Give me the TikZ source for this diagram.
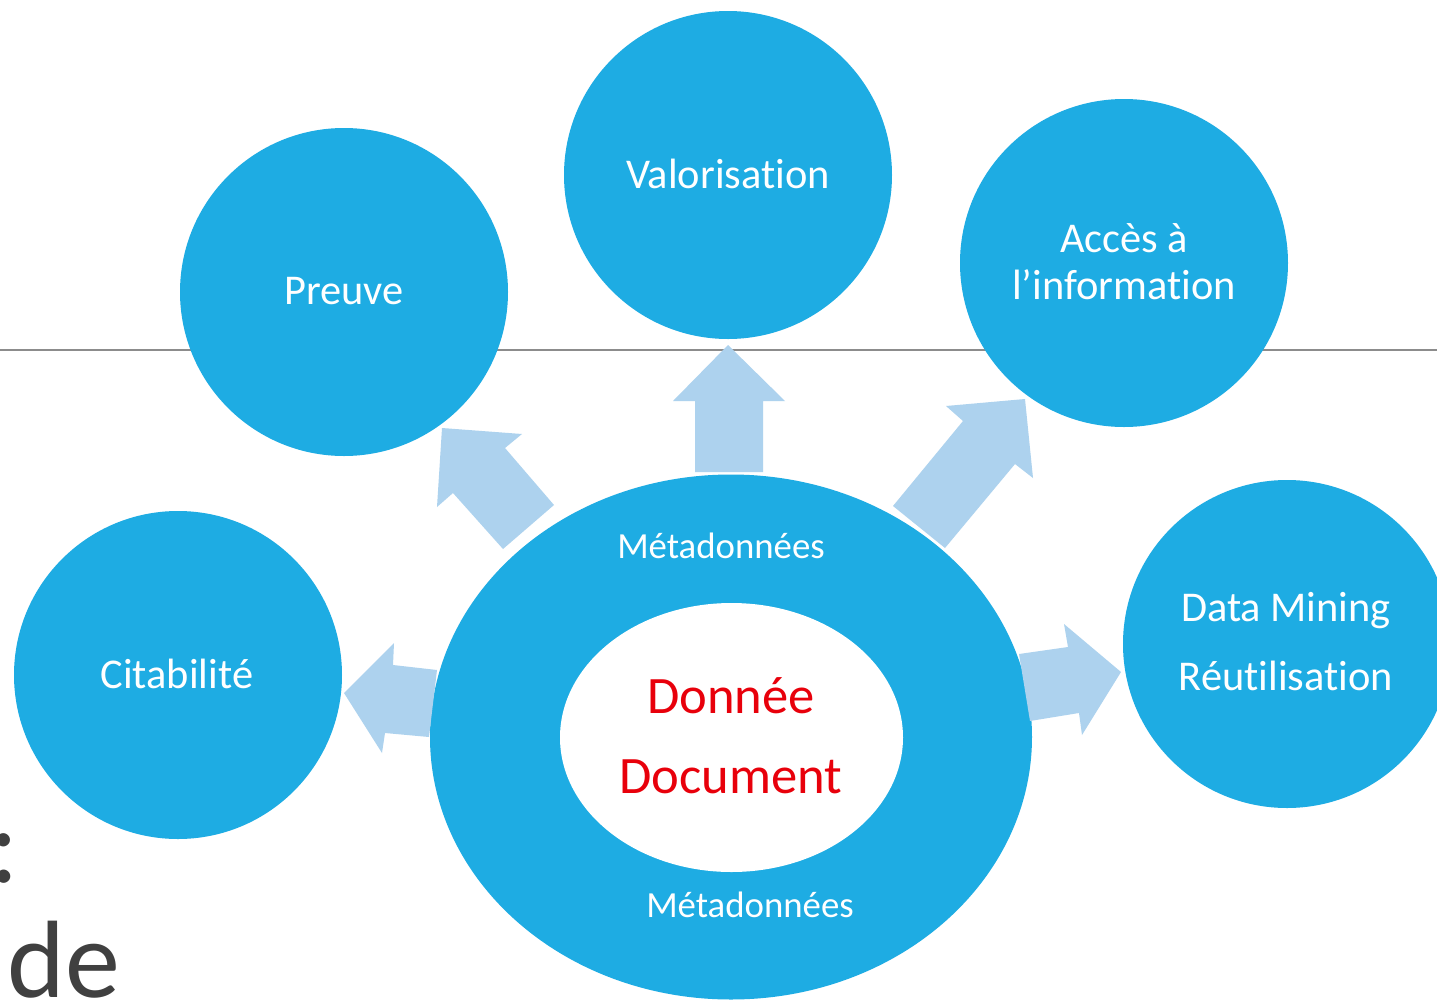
\documentclass[tikz,border=0pt]{standalone}
\usepackage{fontspec}
\setmainfont{Carlito}[Ligatures=NoCommon]
\usetikzlibrary{shapes.geometric}
\definecolor{cblue}{HTML}{1EACE3}
\definecolor{alight}{HTML}{ADD2EE}
\definecolor{lgray}{HTML}{8C8C8C}
\definecolor{dgray}{HTML}{404040}
\definecolor{dred}{HTML}{E8000B}
\tikzset{
  bubble/.style={circle,fill=cblue,draw=none,minimum size=164pt,inner sep=0pt},
  wlabel/.style={text=white,inner sep=0pt,font=\fontsize{21.2}{25}\selectfont},
  mlabel/.style={text=white,inner sep=0pt,font=\fontsize{18.4}{22}\selectfont},
  rlabel/.style={text=dred,inner sep=0pt,font=\fontsize{26.3}{31}\selectfont},
  bgtext/.style={inner sep=0pt,text=dgray,font=\fontsize{55}{62}\selectfont},
  blockarrow/.style={fill=alight,draw=none},
}
\begin{document}
\begin{tikzpicture}[x=0.5pt,y=-0.5pt]
\useasboundingbox (0,0) rectangle (1437,1002);
\fill[white] (0,0) rectangle (1437,1002);
% background slide line
\coordinate (lineL) at (0,350);
\coordinate (lineR) at (1437,350);
\draw[lgray,line width=0.8pt] (lineL) -- (lineR);
% background slide text
\node[bgtext,anchor=base west] (de) at (7,997) {de};
\node[bgtext,anchor=base west] (colon) at (-11,882) {:};
% circles
\node[bubble] (preuve) at (344,292) {};
\node[bubble] (valor) at (728,175) {};
\node[bubble] (acces) at (1124,263) {};
\node[bubble] (citab) at (178,675) {};
\node[bubble] (data) at (1287,644) {};
% central ellipse
\node[ellipse,fill=cblue,minimum width=301pt,minimum height=262.5pt,inner sep=0pt] (outer) at (731,737) {};
\node[ellipse,fill=white,minimum width=171.5pt,minimum height=134.5pt,inner sep=0pt] (inner) at (731.5,737.5) {};
% labels
\node[wlabel] (tpreuve) at (344,291) {Preuve};
\node[wlabel] (tvalor) at (728,174) {Valorisation};
\node[wlabel] (tacces1) at (1124,238) {Accès à};
\node[wlabel] (tacces2) at (1124,285) {l’information};
\node[wlabel] (tcitab) at (177,674) {Citabilité};
\node[wlabel] (tdata1) at (1286,611) {Data Mining};
\node[wlabel] (tdata2) at (1286,676) {Réutilisation};
\node[mlabel] (tmeta1) at (721,546) {Métadonnées};
\node[mlabel] (tmeta2) at (750,905) {Métadonnées};
\node[rlabel] (tdonnee) at (731,696) {Donnée};
\node[rlabel] (tdoc) at (731,777) {Document};
% block arrows
\fill[blockarrow] (695,472) -- (695,401) -- (673,401) -- (728,345) -- (785,401) -- (763,401) -- (763,472) -- cycle;
\fill[blockarrow] (429,737) -- (385,733) -- (382,753) -- (344,693) -- (394,643) -- (393,665) -- (437,670) -- cycle;
\fill[blockarrow] (1019,654) -- (1068,647) -- (1064,624) -- (1121,672) -- (1082,735) -- (1079,713) -- (1030,721) -- cycle;
\fill[blockarrow] (503,549) -- (453,493) -- (437,507) -- (442,428) -- (522,434) -- (505,448) -- (554,505) -- cycle;
\fill[blockarrow] (893,506) -- (963,421) -- (946,406) -- (1025,399) -- (1033,478) -- (1015,464) -- (945,548) -- cycle;
\end{tikzpicture}
\end{document}
